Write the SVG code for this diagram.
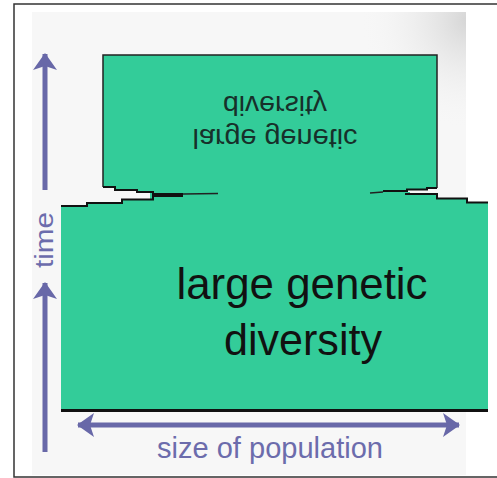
<svg xmlns="http://www.w3.org/2000/svg" width="497" height="478" viewBox="0 0 497 478">
  <defs>
    <radialGradient id="bgfade" gradientUnits="userSpaceOnUse" cx="470" cy="20" r="110">
      <stop offset="0" stop-color="#d4d4d4"/>
      <stop offset="1" stop-color="#f7f7f7" stop-opacity="0"/>
    </radialGradient>
    <marker id="head" markerUnits="userSpaceOnUse" markerWidth="17" markerHeight="24" viewBox="0 0 17 24" refX="16" refY="12" orient="auto-start-reverse">
      <path d="M0,0 L17,12 L0,24 L4,12 z" fill="#6868a8"/>
    </marker>
  </defs>
  <style>
    .frame { stroke: #333; stroke-width: 1.5; fill: none; }
    .fill { fill: #33cc99; }
    .edge { stroke: #111; stroke-width: 2; fill: none; stroke-linejoin: miter; }
    .thin { stroke: #222; stroke-width: 1.5; fill: none; }
    .axis { stroke: #6868a8; stroke-width: 5; fill: none; }
    .axislabel { font-family: "Liberation Sans", Arial, sans-serif; fill: #6c6cac; }
    .big { font-family: "Liberation Sans", Arial, sans-serif; font-size: 44px; fill: #111; text-anchor: middle; }
    .mirror { font-family: "Liberation Sans", Arial, sans-serif; font-size: 28px; fill: #17302a; text-anchor: middle; }
  </style>

  <g id="background">
    <rect x="0" y="0" width="497" height="478" fill="#ffffff"/>
    <rect x="32" y="12" width="434" height="463" fill="#f7f7f7"/>
    <rect x="360" y="12" width="106" height="140" fill="url(#bgfade)"/>
    <path class="frame" d="M497,4 H14 V477 H497"/>
  </g>

  <g id="population">
    <path class="fill" d="M103,55 H437 V188 H427 V189.5 H407 V191 H383 V192.5 H405 V194 H437 V198.5 H467 V202.5 H488 V409 H61 V206 H87 V203 H122 V199.5 H153 V192 H137 V190 H115 V187 H103 Z"/>
    <path class="fill" d="M150,192 L410,192 L410,200 L150,200 Z"/>
    <path class="thin" d="M103,187 V55 H437 V188"/>
    <path class="edge" d="M103,187 H115 V190 H137 V192 H153 V194 H183"/>
    <path class="thin" d="M183,194 L218,193.5" stroke-width="1.2"/>
    <path class="edge" d="M61,206 H87 V203 H122 V199.5 H153 V196 H183"/>
    <path class="edge" d="M437,188 H427 V189.5 H407 V191 H383"/>
    <path class="thin" d="M383,192 L370,193" stroke-width="1.2"/>
    <path class="edge" d="M405,194 H437 V198.5 H467 V202.5 H488"/>
    <path d="M61,410.5 H488" stroke="#111" stroke-width="3"/>
  </g>

  <g id="label-after">
    <text class="mirror" transform="scale(1,-1)" x="275" y="-96" textLength="104" lengthAdjust="spacingAndGlyphs">diversity</text>
    <text class="mirror" transform="scale(1,-1)" x="275" y="-129" textLength="165" lengthAdjust="spacingAndGlyphs">large genetic</text>
  </g>

  <g id="label-before">
    <text class="big" x="302" y="299" textLength="251" lengthAdjust="spacingAndGlyphs">large genetic</text>
    <text class="big" x="303" y="355" textLength="158" lengthAdjust="spacingAndGlyphs">diversity</text>
  </g>

  <g id="connectors">
    <line class="axis" x1="45" y1="190" x2="45" y2="54" marker-end="url(#head)"/>
    <line class="axis" x1="45" y1="452" x2="45" y2="283" marker-end="url(#head)"/>
    <line class="axis" x1="78" y1="425" x2="459" y2="425" marker-start="url(#head)" marker-end="url(#head)"/>
  </g>

  <g id="axis-labels">
    <text class="axislabel" font-size="26" transform="translate(53,240) rotate(-90)" text-anchor="middle" textLength="56" lengthAdjust="spacingAndGlyphs">time</text>
    <text class="axislabel" font-size="29" x="270" y="458" text-anchor="middle" textLength="226" lengthAdjust="spacingAndGlyphs">size of population</text>
  </g>
</svg>
